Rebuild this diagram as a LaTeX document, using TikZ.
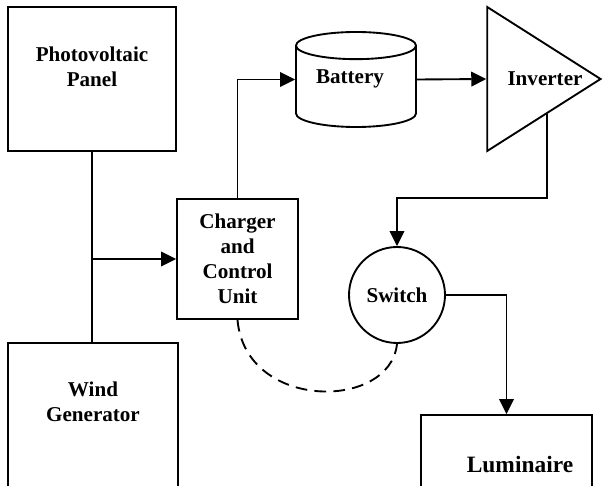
\documentclass[tikz,border=0pt]{standalone}
\usepackage{fontspec}
\setmainfont{Liberation Serif}
\usetikzlibrary{arrows.meta,positioning,shapes.geometric,calc}

\begin{document}
\begin{tikzpicture}[
    x=0.03cm, y=-0.03cm,
    line width=1.6pt,
    font=\fontsize{18}{21.3}\selectfont\bfseries,
    block/.style={draw, inner sep=0pt},
    blocktext/.style={align=center, inner sep=0pt},
    arrow/.style={-{Triangle[length=0.45cm, width=0.44cm]}},
    dashedlink/.style={dash pattern=on 0.35cm off 0.22cm}
]
\useasboundingbox (0,0) rectangle (605,486);
\clip (0,0) rectangle (605,486);

\node[block, rectangle, minimum width=5.04cm, minimum height=4.32cm] (pv) at (92,79) {};
\node[blocktext] (pvtext) at (92,67) {Photovoltaic\\Panel};
\node[block, rectangle, minimum width=5.1cm, minimum height=5.31cm] (wind) at (93,431.5) {};
\node[blocktext] (windtext) at (93,402) {Wind\\Generator};
\node[block, rectangle, minimum width=3.63cm, minimum height=3.6cm, align=center] (charger) at (237.5,259) {Charger\\and\\Control\\Unit};
\node[block, cylinder, shape border rotate=90, aspect=0.4, minimum width=3.6cm, minimum height=2.85cm, anchor=shape center] (battery) at (356,79.5) {\phantom{Battery}};
\node[blocktext] (batterytext) at (350,79) {Battery};
\node[block, isosceles triangle, isosceles triangle stretches, shape border rotate=0, minimum width=4.32cm, minimum height=3.4cm, anchor=apex] (inverter) at (603,79) {};
\node[blocktext] (invertertext) at (545,79) {Inverter};
\node[block, circle, minimum size=2.88cm] (switch) at (397,295) {Switch};
\node[block, rectangle, minimum width=5.13cm, minimum height=3.15cm] (luminaire) at (506.5,467.5) {};
\node[blocktext, font=\fontsize{20}{24}\selectfont\bfseries] (lumtext) at (520,465) {Luminaire};
\coordinate (invdrop) at ($(inverter.right corner)!0.52!(inverter.apex)$);

\draw (pv.south) -- (pv.south |- wind.north);
\coordinate (tap) at (pv.south |- charger.west);
\draw[arrow] (tap) -- (charger.west);
\draw[arrow] (charger.north) |- (battery.west |- battery.shape center);
\draw[arrow] (battery.east |- battery.shape center) -- (inverter.west);
\draw[arrow] (invdrop) |- (switch.north |- charger.north) -- (switch.north);
\draw[arrow] (switch.east) -| (luminaire.north);
\draw[dashedlink] (charger.south) .. controls +(8,91) and +(-7,67) .. (switch.south);

\end{tikzpicture}
\end{document}
